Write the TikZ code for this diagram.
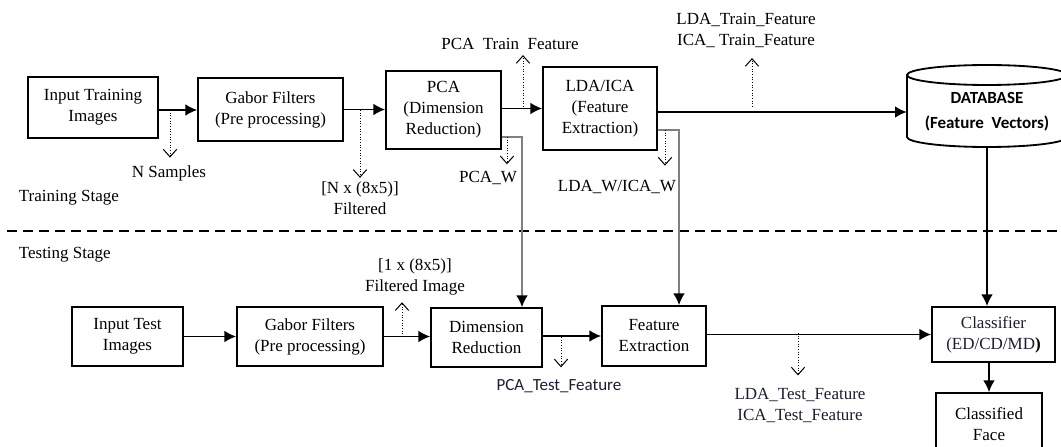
\documentclass[tikz,border=0pt]{standalone}
\usepackage{fontspec}
\setmainfont{Liberation Serif}
\newfontfamily\calibri{Carlito}
\usetikzlibrary{arrows.meta}
\definecolor{ink}{RGB}{26,30,48}
\definecolor{feedgray}{RGB}{128,128,128}

\begin{document}
\begin{tikzpicture}[x=.6pt,y=-.6pt,font=\fontsize{10.2}{12.6}\selectfont,
  blk/.style={draw,line width=1.1pt,align=center,inner sep=0pt},
  lbl/.style={align=center,inner sep=2pt},
  flow/.style={line width=.9pt,-{Latex[length=7pt,width=7pt]}},
  feed/.style={line width=.9pt,draw=feedgray,-{Latex[length=7pt,width=7pt,color=black]}},
  tap/.style={densely dotted,line width=.6pt,-{Straight Barb[length=4.5pt,width=8pt]}}]
  \useasboundingbox (0,0) rectangle (1061,447);
  % training stage
  \node[blk,minimum width=78pt,minimum height=36.6pt] (itr) at (93,107.5) {Input Training\\Images};
  \node[blk,minimum width=87pt,minimum height=37.8pt] (gtr) at (270.5,109.5) {Gabor Filters\\(Pre processing)};
  \node[blk,minimum width=69pt,minimum height=46.8pt] (pca) at (443.5,110) {PCA\\(Dimension\\Reduction)};
  \node[blk,minimum width=68.4pt,minimum height=49.8pt] (lda) at (600,108.5) {LDA/ICA\\(Feature\\Extraction)};
  \draw[line width=1.1pt] (907,75) -- (907,137) arc[start angle=180,end angle=0,x radius=80,y radius=10] -- (1067,75);
  \draw[line width=1.1pt] (987,75) ellipse[x radius=80,y radius=10];
  \node[align=center,inner sep=0pt,minimum width=96pt,minimum height=42pt,font=\calibri\bfseries\fontsize{10.2}{15}\selectfont] (db) at (987,112) {DATABASE\\(Feature\ \ Vectors)};
  \node[anchor=west] (trst) at (13,198) {Training Stage};
  \draw[dash pattern=on 6pt off 3.6pt,line width=1.1pt] (7,231) -- (1061,231);
  \node[anchor=west] (test) at (13,255) {Testing Stage};
  % testing stage
  \node[blk,minimum width=66.6pt,minimum height=35.4pt] (ite) at (127.5,336.5) {Input Test\\Images};
  \node[blk,minimum width=87.6pt,minimum height=35.4pt] (gte) at (310,336.5) {Gabor Filters\\(Pre processing)};
  \node[blk,minimum width=66.6pt,minimum height=35.4pt] (dr) at (486.5,337.5) {Dimension\\Reduction};
  \node[blk,minimum width=62.4pt,minimum height=36pt] (fe) at (654,336) {Feature\\Extraction};
  \node[blk,minimum width=73.8pt,minimum height=33pt,text=ink] (cls) at (993.5,334.5) {Classifier\\(ED/CD/MD\textcolor{black}{\textbf{)}}};
  \node[blk,minimum width=63.6pt,minimum height=37.2pt] (face) at (989,424) {Classified\\Face};
  % labels
  \node[lbl] (nsamp) at (169,173) {N Samples};
  \node[lbl] (nfilt) at (360,198) {[N x (8x5)]\\Filtered};
  \node[lbl] (pcatr) at (510,44) {PCA\ \ Train\ \ Feature};
  \node[lbl] (pcaw) at (488,178) {PCA\_W};
  \node[lbl] (ldatr) at (746,30.5) {LDA\_Train\_Feature\\ICA\_ Train\_Feature};
  \node[lbl] (ldaw) at (617,187) {LDA\_W/ICA\_W};
  \node[lbl] (tfilt) at (415,277) {[1 x (8x5)]\\Filtered Image};
  \node[lbl,text=ink,font=\calibri\fontsize{10.2}{12.6}\selectfont] (pcate) at (559,386) {PCA\_Test\_Feature};
  \node[lbl,text=ink] (ldate) at (800,405.5) {LDA\_Test\_Feature\\ICA\_Test\_Feature};
  % main flow
  \draw[flow] (itr.east |- 0,110) coordinate (a1) -- (a1 -| gtr.west);
  \draw[flow] (gtr.east) -- (gtr.east -| pca.west);
  \draw[flow] (pca.east |- lda.east) -- (lda.west);
  \draw[flow] (lda.east |- db.west) -- (db.west);
  \draw[flow] (db.south) -- (db.south |- cls.north);
  \draw[flow] (face.north |- cls.south) -- (face.north);
  \draw[flow] (ite.east) -- (ite.east -| gte.west);
  \draw[flow] (gte.east) -- (gte.east -| dr.west);
  \draw[flow] (dr.east |- fe.west) -- (fe.west);
  \draw[flow] (fe.east |- cls.west) -- (cls.west);
  \coordinate (pw) at (522,137);
  \coordinate (lw) at (679,130);
  \draw[feed] (pca.east |- pw) -- (pw) -- (pw |- dr.north);
  \draw[feed] (lda.east |- lw) -- (lw) -- (lw |- fe.north);
  % dotted taps
  \coordinate (t1) at (170,110);
  \coordinate (t2) at (360,110);
  \coordinate (t3) at (523,107);
  \coordinate (t4) at (507,137);
  \coordinate (t5) at (752,107);
  \coordinate (t6) at (665,130);
  \coordinate (t7) at (402,337);
  \coordinate (t8) at (561,337);
  \coordinate (t9) at (798,333);
  \draw[tap,shorten >=2.4pt] (t1) -- (t1 |- nsamp.north);
  \draw[tap] (t2) -- (t2 |- nfilt.north);
  \draw[tap,shorten >=1pt] (t3) -- (t3 |- pcatr.south);
  \draw[tap,shorten >=2pt] (t4) -- (t4 |- pcaw.north);
  \draw[tap,shorten >=4pt] (t5) -- (t5 |- ldatr.south);
  \draw[tap,shorten >=6.6pt] (t6) -- (t6 |- ldaw.north);
  \draw[tap,shorten >=2pt] (t7) -- (t7 |- tfilt.south);
  \draw[tap,shorten >=5pt] (t8) -- (t8 |- pcate.north);
  \draw[tap,shorten >=5.5pt] (t9) -- (t9 |- ldate.north);
\end{tikzpicture}
\end{document}
